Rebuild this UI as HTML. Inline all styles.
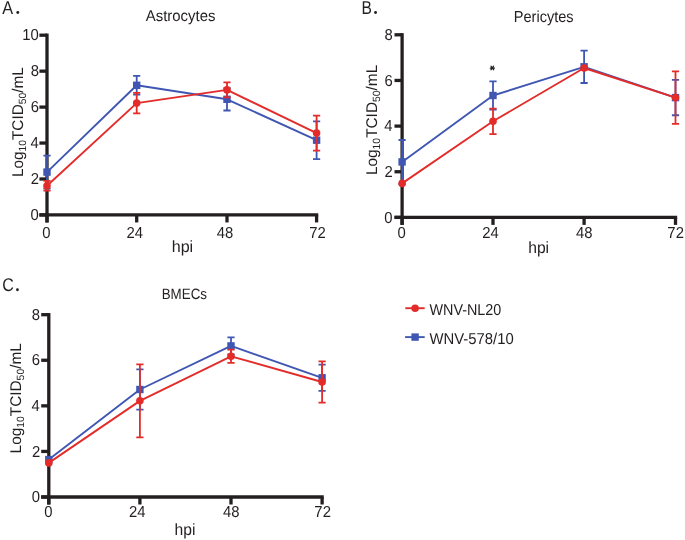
<!DOCTYPE html>
<html><head><meta charset="utf-8"><style>
html,body{margin:0;padding:0;background:#fff;width:685px;height:540px;overflow:hidden}
svg{display:block;will-change:transform}
text{font-family:"Liberation Sans",sans-serif;fill:#231f20;text-rendering:geometricPrecision}
</style></head><body>
<svg width="685" height="540" viewBox="0 0 685 540">
<rect width="685" height="540" fill="#fff"/>
<path d="M47.0 33.550000000000004 V222.45" stroke="#231f20" stroke-width="3.3" fill="none"/>
<path d="M39.4 214.95 H318.25" stroke="#231f20" stroke-width="3.3" fill="none"/>
<path d="M39.4 214.95 H47.0" stroke="#231f20" stroke-width="3.3" fill="none"/>
<text transform="translate(30.61 220.05) scale(0.935 1)" font-size="15.9" text-anchor="start">0</text>
<path d="M39.4 179.00 H47.0" stroke="#231f20" stroke-width="3.3" fill="none"/>
<text transform="translate(30.78 184.10) scale(0.935 1)" font-size="15.9" text-anchor="start">2</text>
<path d="M39.4 143.05 H47.0" stroke="#231f20" stroke-width="3.3" fill="none"/>
<text transform="translate(30.47 148.15) scale(0.935 1)" font-size="15.9" text-anchor="start">4</text>
<path d="M39.4 107.10 H47.0" stroke="#231f20" stroke-width="3.3" fill="none"/>
<text transform="translate(30.69 112.20) scale(0.935 1)" font-size="15.9" text-anchor="start">6</text>
<path d="M39.4 71.15 H47.0" stroke="#231f20" stroke-width="3.3" fill="none"/>
<text transform="translate(30.68 76.25) scale(0.935 1)" font-size="15.9" text-anchor="start">8</text>
<path d="M39.4 35.20 H47.0" stroke="#231f20" stroke-width="3.3" fill="none"/>
<text transform="translate(22.34 40.30) scale(0.935 1)" font-size="15.9" text-anchor="start">10</text>
<path d="M47.0 214.95 V222.45" stroke="#231f20" stroke-width="3.3" fill="none"/>
<text transform="translate(42.32 237.80) scale(0.935 1)" font-size="15.9" text-anchor="start">0</text>
<path d="M136.7 214.95 V222.45" stroke="#231f20" stroke-width="3.3" fill="none"/>
<text transform="translate(126.53 237.80) scale(0.935 1)" font-size="15.9" text-anchor="start">24</text>
<path d="M227.0 214.95 V222.45" stroke="#231f20" stroke-width="3.3" fill="none"/>
<text transform="translate(216.63 237.80) scale(0.935 1)" font-size="15.9" text-anchor="start">48</text>
<path d="M316.6 214.95 V222.45" stroke="#231f20" stroke-width="3.3" fill="none"/>
<text transform="translate(309.27 237.80) scale(0.935 1)" font-size="15.9" text-anchor="start">72</text>
<g><path d="M47.00 155.60 V188.60 M43.40 155.60 h7.2 M43.40 188.60 h7.2" stroke="#3f57b2" stroke-width="1.8" fill="none"/><path d="M136.70 75.90 V94.70 M133.10 75.90 h7.2 M133.10 94.70 h7.2" stroke="#3f57b2" stroke-width="1.8" fill="none"/><path d="M227.00 88.10 V110.50 M223.40 88.10 h7.2 M223.40 110.50 h7.2" stroke="#3f57b2" stroke-width="1.8" fill="none"/><path d="M316.60 121.30 V159.10 M313.00 121.30 h7.2 M313.00 159.10 h7.2" stroke="#3f57b2" stroke-width="1.8" fill="none"/><path d="M47.00 172.10 L136.70 85.30 L227.00 99.30 L316.60 140.20" stroke="#3f57b2" stroke-width="1.9" fill="none" stroke-linejoin="round"/><rect x="43.30" y="168.40" width="7.4" height="7.4" fill="#3f57b2"/><rect x="133.00" y="81.60" width="7.4" height="7.4" fill="#3f57b2"/><rect x="223.30" y="95.60" width="7.4" height="7.4" fill="#3f57b2"/><rect x="312.90" y="136.50" width="7.4" height="7.4" fill="#3f57b2"/></g>
<g><path d="M47.00 180.85 V190.55 M43.40 180.85 h7.2 M43.40 190.55 h7.2" stroke="#e32c29" stroke-width="1.8" fill="none"/><path d="M136.70 92.80 V113.40 M133.10 92.80 h7.2 M133.10 113.40 h7.2" stroke="#e32c29" stroke-width="1.8" fill="none"/><path d="M227.00 82.40 V97.40 M223.40 82.40 h7.2 M223.40 97.40 h7.2" stroke="#e32c29" stroke-width="1.8" fill="none"/><path d="M316.60 115.60 V150.60 M313.00 115.60 h7.2 M313.00 150.60 h7.2" stroke="#e32c29" stroke-width="1.8" fill="none"/><path d="M47.00 185.70 L136.70 103.10 L227.00 89.90 L316.60 133.10" stroke="#e32c29" stroke-width="1.9" fill="none" stroke-linejoin="round"/><circle cx="47.00" cy="185.70" r="3.8" fill="#e32c29"/><circle cx="136.70" cy="103.10" r="3.8" fill="#e32c29"/><circle cx="227.00" cy="89.90" r="3.8" fill="#e32c29"/><circle cx="316.60" cy="133.10" r="3.8" fill="#e32c29"/></g>
<path d="M402.1 33.15 V224.9" stroke="#231f20" stroke-width="3.3" fill="none"/>
<path d="M394.5 217.4 H677.15" stroke="#231f20" stroke-width="3.3" fill="none"/>
<path d="M394.5 217.40 H402.1" stroke="#231f20" stroke-width="3.3" fill="none"/>
<text transform="translate(384.31 222.50) scale(0.935 1)" font-size="15.9" text-anchor="start">0</text>
<path d="M394.5 171.75 H402.1" stroke="#231f20" stroke-width="3.3" fill="none"/>
<text transform="translate(384.48 176.85) scale(0.935 1)" font-size="15.9" text-anchor="start">2</text>
<path d="M394.5 126.10 H402.1" stroke="#231f20" stroke-width="3.3" fill="none"/>
<text transform="translate(384.17 131.20) scale(0.935 1)" font-size="15.9" text-anchor="start">4</text>
<path d="M394.5 80.45 H402.1" stroke="#231f20" stroke-width="3.3" fill="none"/>
<text transform="translate(384.39 85.55) scale(0.935 1)" font-size="15.9" text-anchor="start">6</text>
<path d="M394.5 34.80 H402.1" stroke="#231f20" stroke-width="3.3" fill="none"/>
<text transform="translate(384.38 39.90) scale(0.935 1)" font-size="15.9" text-anchor="start">8</text>
<path d="M402.1 217.4 V224.9" stroke="#231f20" stroke-width="3.3" fill="none"/>
<text transform="translate(397.52 237.80) scale(0.935 1)" font-size="15.9" text-anchor="start">0</text>
<path d="M493.0 217.4 V224.9" stroke="#231f20" stroke-width="3.3" fill="none"/>
<text transform="translate(482.28 237.80) scale(0.935 1)" font-size="15.9" text-anchor="start">24</text>
<path d="M584.1 217.4 V224.9" stroke="#231f20" stroke-width="3.3" fill="none"/>
<text transform="translate(575.98 237.80) scale(0.935 1)" font-size="15.9" text-anchor="start">48</text>
<path d="M675.5 217.4 V224.9" stroke="#231f20" stroke-width="3.3" fill="none"/>
<text transform="translate(667.37 237.80) scale(0.935 1)" font-size="15.9" text-anchor="start">72</text>
<g><path d="M402.10 140.00 V183.80 M398.50 140.00 h7.2 M398.50 183.80 h7.2" stroke="#3f57b2" stroke-width="1.8" fill="none"/><path d="M493.00 81.35 V109.65 M489.40 81.35 h7.2 M489.40 109.65 h7.2" stroke="#3f57b2" stroke-width="1.8" fill="none"/><path d="M584.10 50.60 V83.00 M580.50 50.60 h7.2 M580.50 83.00 h7.2" stroke="#3f57b2" stroke-width="1.8" fill="none"/><path d="M675.50 79.95 V115.25 M671.90 79.95 h7.2 M671.90 115.25 h7.2" stroke="#3f57b2" stroke-width="1.8" fill="none"/><path d="M402.10 161.90 L493.00 95.50 L584.10 66.80 L675.50 97.60" stroke="#3f57b2" stroke-width="1.9" fill="none" stroke-linejoin="round"/><rect x="398.40" y="158.20" width="7.4" height="7.4" fill="#3f57b2"/><rect x="489.30" y="91.80" width="7.4" height="7.4" fill="#3f57b2"/><rect x="580.40" y="63.10" width="7.4" height="7.4" fill="#3f57b2"/><rect x="671.80" y="93.90" width="7.4" height="7.4" fill="#3f57b2"/></g>
<g><path d="M493.00 108.55 V134.05 M489.40 108.55 h7.2 M489.40 134.05 h7.2" stroke="#e32c29" stroke-width="1.8" fill="none"/><path d="M675.50 71.35 V123.85 M671.90 71.35 h7.2 M671.90 123.85 h7.2" stroke="#e32c29" stroke-width="1.8" fill="none"/><path d="M402.10 183.40 L493.00 121.30 L584.10 68.00 L675.50 97.60" stroke="#e32c29" stroke-width="1.9" fill="none" stroke-linejoin="round"/><circle cx="402.10" cy="183.40" r="3.8" fill="#e32c29"/><circle cx="493.00" cy="121.30" r="3.8" fill="#e32c29"/><circle cx="584.10" cy="68.00" r="3.8" fill="#e32c29"/><circle cx="675.50" cy="97.60" r="3.8" fill="#e32c29"/></g>
<path d="M48.8 313.05 V504.5" stroke="#231f20" stroke-width="3.3" fill="none"/>
<path d="M41.199999999999996 497.0 H323.75" stroke="#231f20" stroke-width="3.3" fill="none"/>
<path d="M41.199999999999996 497.00 H48.8" stroke="#231f20" stroke-width="3.3" fill="none"/>
<text transform="translate(31.71 502.10) scale(0.935 1)" font-size="15.9" text-anchor="start">0</text>
<path d="M41.199999999999996 451.43 H48.8" stroke="#231f20" stroke-width="3.3" fill="none"/>
<text transform="translate(31.88 456.53) scale(0.935 1)" font-size="15.9" text-anchor="start">2</text>
<path d="M41.199999999999996 405.85 H48.8" stroke="#231f20" stroke-width="3.3" fill="none"/>
<text transform="translate(31.57 410.95) scale(0.935 1)" font-size="15.9" text-anchor="start">4</text>
<path d="M41.199999999999996 360.27 H48.8" stroke="#231f20" stroke-width="3.3" fill="none"/>
<text transform="translate(31.79 365.38) scale(0.935 1)" font-size="15.9" text-anchor="start">6</text>
<path d="M41.199999999999996 314.70 H48.8" stroke="#231f20" stroke-width="3.3" fill="none"/>
<text transform="translate(31.78 319.80) scale(0.935 1)" font-size="15.9" text-anchor="start">8</text>
<path d="M48.8 497.0 V504.5" stroke="#231f20" stroke-width="3.3" fill="none"/>
<text transform="translate(44.22 517.40) scale(0.935 1)" font-size="15.9" text-anchor="start">0</text>
<path d="M139.9 497.0 V504.5" stroke="#231f20" stroke-width="3.3" fill="none"/>
<text transform="translate(128.98 517.40) scale(0.935 1)" font-size="15.9" text-anchor="start">24</text>
<path d="M231.0 497.0 V504.5" stroke="#231f20" stroke-width="3.3" fill="none"/>
<text transform="translate(222.93 517.40) scale(0.935 1)" font-size="15.9" text-anchor="start">48</text>
<path d="M322.1 497.0 V504.5" stroke="#231f20" stroke-width="3.3" fill="none"/>
<text transform="translate(314.37 517.40) scale(0.935 1)" font-size="15.9" text-anchor="start">72</text>
<g><path d="M139.90 369.40 V409.60 M136.30 369.40 h7.2 M136.30 409.60 h7.2" stroke="#3f57b2" stroke-width="1.8" fill="none"/><path d="M231.00 337.30 V354.50 M227.40 337.30 h7.2 M227.40 354.50 h7.2" stroke="#3f57b2" stroke-width="1.8" fill="none"/><path d="M322.10 364.65 V390.95 M318.50 364.65 h7.2 M318.50 390.95 h7.2" stroke="#3f57b2" stroke-width="1.8" fill="none"/><path d="M48.80 459.60 L139.90 389.50 L231.00 345.90 L322.10 377.80" stroke="#3f57b2" stroke-width="1.9" fill="none" stroke-linejoin="round"/><rect x="45.10" y="455.90" width="7.4" height="7.4" fill="#3f57b2"/><rect x="136.20" y="385.80" width="7.4" height="7.4" fill="#3f57b2"/><rect x="227.30" y="342.20" width="7.4" height="7.4" fill="#3f57b2"/><rect x="318.40" y="374.10" width="7.4" height="7.4" fill="#3f57b2"/></g>
<g><path d="M139.90 364.40 V437.30 M136.30 364.40 h7.2 M136.30 437.30 h7.2" stroke="#e32c29" stroke-width="1.8" fill="none"/><path d="M231.00 349.65 V362.95 M227.40 349.65 h7.2 M227.40 362.95 h7.2" stroke="#e32c29" stroke-width="1.8" fill="none"/><path d="M322.10 361.45 V402.55 M318.50 361.45 h7.2 M318.50 402.55 h7.2" stroke="#e32c29" stroke-width="1.8" fill="none"/><path d="M48.80 462.90 L139.90 400.85 L231.00 356.30 L322.10 382.00" stroke="#e32c29" stroke-width="1.9" fill="none" stroke-linejoin="round"/><circle cx="48.80" cy="462.90" r="3.8" fill="#e32c29"/><circle cx="139.90" cy="400.85" r="3.8" fill="#e32c29"/><circle cx="231.00" cy="356.30" r="3.8" fill="#e32c29"/><circle cx="322.10" cy="382.00" r="3.8" fill="#e32c29"/></g>
<text transform="translate(2.17 13.90) scale(0.87 1)" font-size="18.7" text-anchor="start">A</text>
<text transform="translate(361.42 13.90) scale(0.834 1)" font-size="18.7" text-anchor="start">B</text>
<text transform="translate(2.18 290.80) scale(0.875 1)" font-size="18.4" text-anchor="start">C</text>
<circle cx="17.8" cy="12.5" r="1.45" fill="#231f20"/><circle cx="375.55" cy="12.55" r="1.45" fill="#231f20"/><circle cx="17.45" cy="289.75" r="1.4" fill="#231f20"/>
<text x="145.8" y="21.2" font-size="15.6" text-anchor="start" textLength="69.6" lengthAdjust="spacingAndGlyphs">Astrocytes</text>
<text x="513.8" y="21.7" font-size="15.9" text-anchor="start" textLength="59.8" lengthAdjust="spacingAndGlyphs">Pericytes</text>
<text x="161.7" y="298.9" font-size="15.0" text-anchor="start" textLength="45.3" lengthAdjust="spacingAndGlyphs">BMECs</text>
<text x="171.7" y="252.4" font-size="16.3" text-anchor="start" textLength="21.5" lengthAdjust="spacingAndGlyphs">hpi</text>
<text x="528.2" y="252.8" font-size="16.3" text-anchor="start" textLength="20.9" lengthAdjust="spacingAndGlyphs">hpi</text>
<text x="174.6" y="534.8" font-size="16.3" text-anchor="start" textLength="20.9" lengthAdjust="spacingAndGlyphs">hpi</text>
<text transform="translate(22.6 177.0) rotate(-90)" font-size="15.5" textLength="109.7" lengthAdjust="spacingAndGlyphs">Log<tspan font-size="10.5" dy="3.2">10</tspan><tspan dy="-3.2">TCID</tspan><tspan font-size="10.5" dy="3.2">50</tspan><tspan dy="-3.2">/mL</tspan></text>
<text transform="translate(377.0 175.1) rotate(-90)" font-size="15.5" textLength="110.3" lengthAdjust="spacingAndGlyphs">Log<tspan font-size="10.5" dy="3.2">10</tspan><tspan dy="-3.2">TCID</tspan><tspan font-size="10.5" dy="3.2">50</tspan><tspan dy="-3.2">/mL</tspan></text>
<text transform="translate(21.0 453.4) rotate(-90)" font-size="15.5" textLength="110.19999999999999" lengthAdjust="spacingAndGlyphs">Log<tspan font-size="10.5" dy="3.2">10</tspan><tspan dy="-3.2">TCID</tspan><tspan font-size="10.5" dy="3.2">50</tspan><tspan dy="-3.2">/mL</tspan></text>
<path d="M490.2 68.1 H494.5 M491.0 66.2 L493.7 69.9 M493.6 66.2 L490.9 69.9" stroke="#231f20" stroke-width="1.15" stroke-linecap="round" fill="none"/>
<path d="M405.3 308.2 H424.7" stroke="#e32c29" stroke-width="1.9"/><circle cx="415.1" cy="308.2" r="3.8" fill="#e32c29"/>
<path d="M405.1 337.1 H424.7" stroke="#3f57b2" stroke-width="1.9"/><rect x="411.40000000000003" y="333.40000000000003" width="7.4" height="7.4" fill="#3f57b2"/>
<text x="429.5" y="315.2" font-size="15.8" text-anchor="start" textLength="71.8" lengthAdjust="spacingAndGlyphs">WNV-NL20</text>
<text x="429.5" y="343.8" font-size="15.8" text-anchor="start" textLength="84.2" lengthAdjust="spacingAndGlyphs">WNV-578/10</text>
</svg>
</body></html>
